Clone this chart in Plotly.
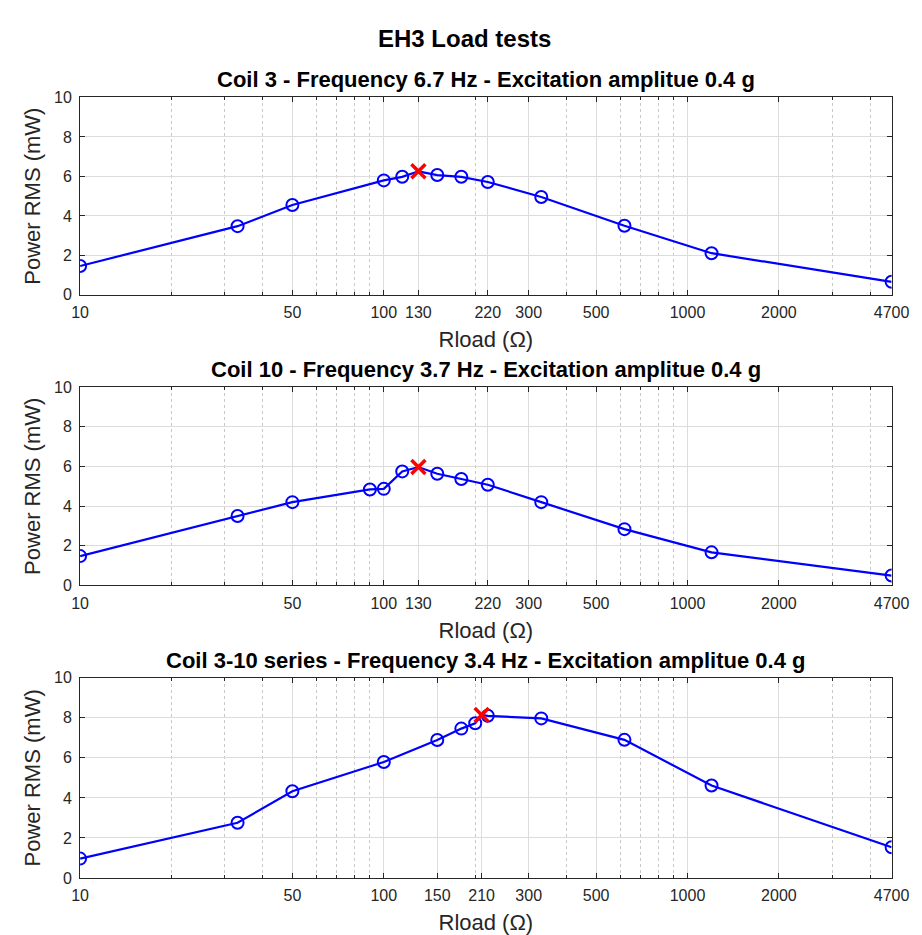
import plotly.graph_objects as go

# ---- data ----
titles = [
    "Coil 3 - Frequency 6.7 Hz - Excitation amplitue 0.4 g",
    "Coil 10 - Frequency 3.7 Hz - Excitation amplitue 0.4 g",
    "Coil 3-10 series - Frequency 3.4 Hz - Excitation amplitue 0.4 g",
]
r1 = [10, 33, 50, 100, 115, 130, 150, 180, 220, 330, 620, 1200, 4700]
p1 = [1.46, 3.48, 4.55, 5.80, 5.98, 6.26, 6.07, 5.98, 5.72, 4.96, 3.50, 2.11, 0.66]
r2 = [10, 33, 50, 90, 100, 115, 130, 150, 180, 220, 330, 620, 1200, 4700]
p2 = [1.48, 3.50, 4.20, 4.84, 4.87, 5.75, 5.97, 5.63, 5.37, 5.08, 4.20, 2.84, 1.67, 0.50]
r3 = [10, 33, 50, 100, 150, 180, 200, 210, 220, 330, 620, 1200, 4700]
p3 = [0.97, 2.76, 4.33, 5.79, 6.89, 7.46, 7.73, 8.14, 8.10, 7.97, 6.90, 4.62, 1.54]
tick12 = [10, 50, 100, 130, 220, 300, 500, 1000, 2000, 4700]
tick3 = [10, 50, 100, 150, 210, 300, 500, 1000, 2000, 4700]
yticks = [0, 2, 4, 6, 8, 10]

series = [(r1, p1, tick12), (r2, p2, tick12), (r3, p3, tick3)]

W, H = 922, 935
plot_px = [(83, 284), (378, 580), (674, 878)]
x_px = (65, 901)

fig = go.Figure()
font = "Liberation Sans, Arial, sans-serif"
annotations = []
for i, (r, p, tv) in enumerate(series):
    n = "" if i == 0 else str(i + 1)
    xa, ya = "x" + n, "y" + n
    imax = p.index(max(p))
    fig.add_trace(go.Scatter(x=r, y=p, mode="lines", line=dict(color="#0000FF", width=2.2),
                             xaxis=xa, yaxis=ya, showlegend=False, hoverinfo="skip"))
    rc = [v for k, v in enumerate(r) if k != imax]
    pc = [v for k, v in enumerate(p) if k != imax]
    fig.add_trace(go.Scatter(x=rc, y=pc, mode="markers",
                             marker=dict(symbol="circle-open", size=12, color="#0000FF", line=dict(width=2)),
                             xaxis=xa, yaxis=ya, showlegend=False))
    fig.add_trace(go.Scatter(x=[r[imax]], y=[p[imax]], mode="markers",
                             marker=dict(symbol="x-thin-open", size=14, color="#FF0000", line=dict(width=3.5, color="#FF0000")),
                             xaxis=xa, yaxis=ya, showlegend=False))
    top, bot = plot_px[i]
    dom_y = [1 - bot / H, 1 - top / H]
    dom_x = [x_px[0] / W, x_px[1] / W]
    axcommon = dict(showline=True, linecolor="#262626", linewidth=1, mirror="ticks",
                    ticks="inside", tickcolor="#262626", ticklen=5,
                    tickfont=dict(family=font, size=16, color="#262626"),
                    gridcolor="#DCDCDC", gridwidth=1, zeroline=False)
    fig.layout["xaxis" + n] = dict(axcommon, type="log", range=[1, 3.6721], domain=dom_x,
                                   anchor=ya, tickvals=tv, ticktext=[str(v) for v in tv],
                                   ticklabelstandoff=3,
                                   title=dict(text="Rload (Ω)", font=dict(family=font, size=22, color="#262626"), standoff=11),
                                   minor=dict(dtick="D1", showgrid=True, griddash="dot", gridcolor="#C8C8C8",
                                              ticks="inside", ticklen=3, tickcolor="#262626"))
    fig.layout["yaxis" + n] = dict(axcommon, range=[0, 10], domain=dom_y, anchor=xa,
                                   tickvals=yticks, ticklabelstandoff=4,
                                   title=dict(text="Power RMS (mW)", font=dict(family=font, size=22, color="#262626"), standoff=7))
    annotations.append(dict(text="<b>" + titles[i] + "</b>", x=(dom_x[0] + dom_x[1]) / 2, y=dom_y[1],
                            xref="paper", yref="paper", xanchor="center", yanchor="bottom", yshift=3,
                            showarrow=False, font=dict(family=font, size=22, color="black")))

annotations.append(dict(text="<b>EH3 Load tests</b>", x=0.5, y=1 - 22.5 / H, xref="paper", yref="paper",
                        xanchor="center", yanchor="middle", showarrow=False,
                        font=dict(family=font, size=24, color="black")))

fig.update_layout(width=W, height=H, margin=dict(l=0, r=0, t=0, b=0),
                  paper_bgcolor="white", plot_bgcolor="white", annotations=annotations)
fig.write_html("out.html")
